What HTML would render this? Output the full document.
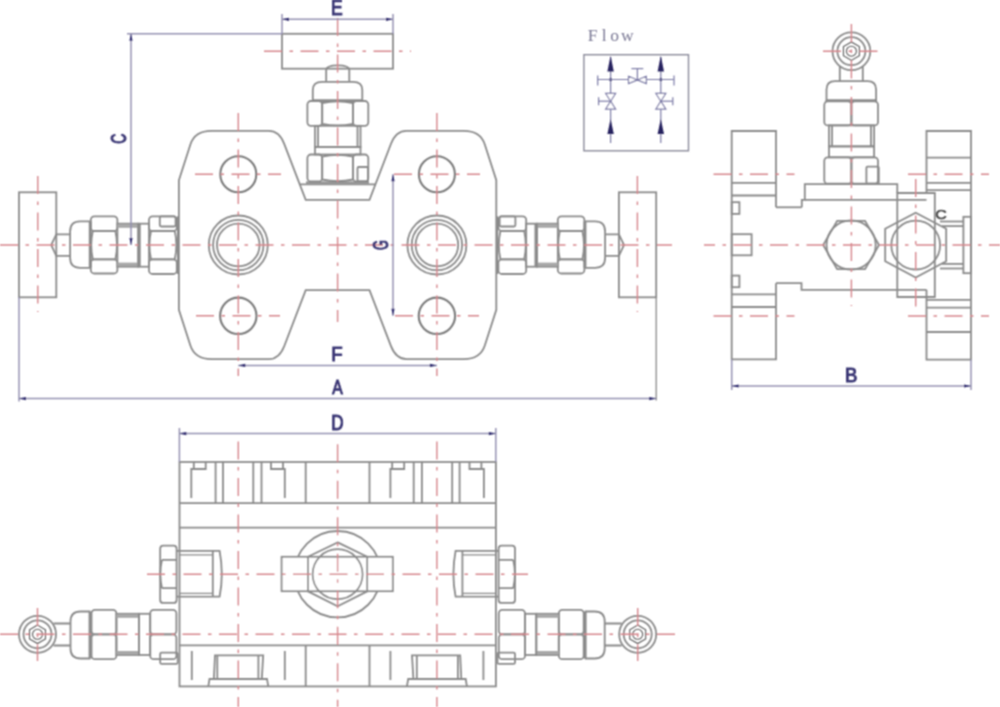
<!DOCTYPE html>
<html><head><meta charset="utf-8"><title>Manifold drawing</title><style>
html,body{margin:0;padding:0;background:#fff;}
svg{display:block;}
text{font-family:"Liberation Sans",sans-serif;}
.o{fill:none;stroke:#8a8a8a;stroke-width:1.8;}
.ot{fill:none;stroke:#8a8a8a;stroke-width:1.3;}
.oth{fill:none;stroke:#5a5a5a;stroke-width:1.1;}
.oh{fill:none;stroke:#7c7c7c;stroke-width:2.1;}
.d{fill:none;stroke:#9592b2;stroke-width:1.5;}
.ah{fill:#2e2a6e;stroke:none;}
.c{fill:none;stroke:#d6868c;stroke-width:1.4;stroke-dasharray:18 7.5 3.5 7.5;}
.fl{stroke:#7b7aa6;stroke-width:1.2;}
line.fl{fill:none;}
.fa{fill:#26215f;}
</style></head>
<body><svg width="1000" height="707" viewBox="0 0 1000 707">
<defs><filter id="bl" x="-5%" y="-5%" width="110%" height="110%"><feConvolveMatrix order="3" kernelMatrix="1 2 1 2 4 2 1 2 1" divisor="16" edgeMode="none"/></filter></defs>
<rect width="1000" height="707" fill="#fff"/>
<g filter="url(#bl)">
<path class="o" d="M178.9,180.2 L190.4,144.5 Q194.8,130.9 211.4,130.9 L268.8,130.9 Q279.2,130.9 284.2,143.8 L305.7,199.8 L369.5,199.8 L391,143.8 Q396,130.9 406.4,130.9 L463.8,130.9 Q480.4,130.9 484.8,144.5 L496.3,180.2 L496.3,309.8 L484.8,345.5 Q480.4,359.1 463.8,359.1 L406.4,359.1 Q396,359.1 391,346.2 L369.5,290.2 L305.7,290.2 L284.2,346.2 Q279.2,359.1 268.8,359.1 L211.4,359.1 Q194.8,359.1 190.4,345.5 L178.9,309.8 Z"/>
<line class="o" x1="299.8" y1="184.4" x2="375.4" y2="184.4"/>
<circle class="oh" cx="238.3" cy="174.2" r="18"/>
<circle class="oh" cx="238.3" cy="315.8" r="18.2"/>
<circle class="o" cx="238.3" cy="245" r="29.5"/>
<circle class="o" cx="238.3" cy="245" r="25.2"/>
<circle class="o" cx="238.3" cy="245" r="21.3"/>
<circle class="oh" cx="436.9" cy="174.2" r="18"/>
<circle class="oh" cx="436.9" cy="315.8" r="18.2"/>
<circle class="o" cx="436.9" cy="245" r="29.5"/>
<circle class="o" cx="436.9" cy="245" r="25.2"/>
<circle class="o" cx="436.9" cy="245" r="21.3"/>
<rect class="o" x="19" y="192.3" width="37.3" height="105"/>
<path class="o" d="M70.1,234.4 H56.3 L51.2,245 L56.3,255.9 H70.1"/>
<path class="o" d="M89.7,221.4 H80.1 Q70.1,221.4 70.1,231.4 V257.8 Q70.1,267.8 80.1,267.8 H89.7 Z"/>
<line class="o" x1="90.8" y1="221.4" x2="90.8" y2="267.8"/>
<rect class="o" x="90.8" y="216.3" width="26.6" height="14.7" rx="3.5"/>
<rect class="o" x="90.8" y="259.3" width="26.6" height="14.2" rx="3.5"/>
<path class="o" d="M92.8,231 Q89.6,245.15 92.8,259.3 M115.4,231 Q118.6,245.15 115.4,259.3 M92.8,231 H115.4 M92.8,259.3 H115.4"/>
<rect class="o" x="117.4" y="223.7" width="20.9" height="43"/>
<rect x="117.4" y="224.2" width="20.9" height="3.6" fill="#a8a8a8"/>
<rect x="117.4" y="262.6" width="20.9" height="3.6" fill="#a8a8a8"/>
<rect class="o" x="138.3" y="223.7" width="10.7" height="43"/>
<line class="o" x1="139.8" y1="223.7" x2="139.8" y2="266.7"/>
<rect class="o" x="149" y="216.3" width="27.8" height="14.7" rx="3.5"/>
<rect class="o" x="149" y="259.3" width="27.8" height="14.7" rx="3.5"/>
<path class="o" d="M151,231 Q147.8,245.15 151,259.3 M174.8,231 Q178,245.15 174.8,259.3 M151,231 H174.8 M151,259.3 H174.8"/>
<rect class="o" x="159.8" y="216.3" width="15.8" height="10.2" rx="1.5"/>
<line class="o" x1="177.9" y1="216.3" x2="177.9" y2="274"/>
<g transform="matrix(-1,0,0,1,675.2,0)">
<rect class="o" x="19" y="192.3" width="37.3" height="105"/>
<path class="o" d="M70.1,234.4 H56.3 L51.2,245 L56.3,255.9 H70.1"/>
<path class="o" d="M89.7,221.4 H80.1 Q70.1,221.4 70.1,231.4 V257.8 Q70.1,267.8 80.1,267.8 H89.7 Z"/>
<line class="o" x1="90.8" y1="221.4" x2="90.8" y2="267.8"/>
<rect class="o" x="90.8" y="216.3" width="26.6" height="14.7" rx="3.5"/>
<rect class="o" x="90.8" y="259.3" width="26.6" height="14.2" rx="3.5"/>
<path class="o" d="M92.8,231 Q89.6,245.15 92.8,259.3 M115.4,231 Q118.6,245.15 115.4,259.3 M92.8,231 H115.4 M92.8,259.3 H115.4"/>
<rect class="o" x="117.4" y="223.7" width="20.9" height="43"/>
<rect x="117.4" y="224.2" width="20.9" height="3.6" fill="#a8a8a8"/>
<rect x="117.4" y="262.6" width="20.9" height="3.6" fill="#a8a8a8"/>
<rect class="o" x="138.3" y="223.7" width="10.7" height="43"/>
<line class="o" x1="139.8" y1="223.7" x2="139.8" y2="266.7"/>
<rect class="o" x="149" y="216.3" width="27.8" height="14.7" rx="3.5"/>
<rect class="o" x="149" y="259.3" width="27.8" height="14.7" rx="3.5"/>
<path class="o" d="M151,231 Q147.8,245.15 151,259.3 M174.8,231 Q178,245.15 174.8,259.3 M151,231 H174.8 M151,259.3 H174.8"/>
<rect class="o" x="159.8" y="216.3" width="15.8" height="10.2" rx="1.5"/>
<line class="o" x1="177.9" y1="216.3" x2="177.9" y2="274"/>
</g>
<rect class="o" x="282" y="33.8" width="111" height="34.9"/>
<path class="o" d="M326.2,81.8 V70 Q326.2,65.4 337.7,65.4 Q349.3,65.4 349.3,70 V81.8"/>
<path class="o" d="M312.8,100.1 V90 Q312.8,81.8 322,81.8 H353.1 Q362.3,81.8 362.3,90 V100.1 Z"/>
<line class="o" x1="312" y1="101" x2="363" y2="101"/>
<rect class="o" x="307.4" y="101" width="14.8" height="24.8" rx="3.5"/>
<rect class="o" x="353" y="101" width="15.3" height="24.8" rx="3.5"/>
<path class="o" d="M322.2,103 Q337.6,99.8 353,103 M322.2,123.8 Q337.6,127 353,123.8 M322.2,103 V123.8 M353,103 V123.8"/>
<rect class="o" x="315" y="125.8" width="45.5" height="21.2"/>
<line class="o" x1="318" y1="125.8" x2="318" y2="147"/>
<line class="o" x1="357.5" y1="125.8" x2="357.5" y2="147"/>
<rect class="o" x="315" y="147" width="45.5" height="7.5"/>
<rect class="o" x="307.4" y="154.5" width="14.8" height="27" rx="3.5"/>
<rect class="o" x="353" y="154.5" width="15.3" height="27" rx="3.5"/>
<path class="o" d="M322.2,156.5 Q337.6,153.3 353,156.5 M322.2,179.5 Q337.6,182.7 353,179.5 M322.2,156.5 V179.5 M353,156.5 V179.5"/>
<rect class="o" x="357.5" y="167" width="10.5" height="14.5" rx="1.2"/>
<line class="o" x1="306" y1="182.5" x2="369" y2="182.5"/>
<line class="c" x1="337.6" y1="18" x2="337.6" y2="322"/>
<line class="c" x1="0" y1="245" x2="672" y2="245"/>
<line class="c" x1="264" y1="51.2" x2="411" y2="51.2"/>
<line class="c" x1="238.3" y1="113" x2="238.3" y2="376"/>
<line class="c" x1="195" y1="174.2" x2="281" y2="174.2"/>
<line class="c" x1="196" y1="315.8" x2="280" y2="315.8"/>
<line class="c" x1="436.9" y1="113" x2="436.9" y2="376"/>
<line class="c" x1="394" y1="174.2" x2="480" y2="174.2"/>
<line class="c" x1="395" y1="315.8" x2="479" y2="315.8"/>
<line class="c" x1="37.8" y1="176" x2="37.8" y2="312"/>
<line class="c" x1="637.4" y1="176" x2="637.4" y2="312"/>
<line class="d" x1="282" y1="19.3" x2="393" y2="19.3"/>
<path class="ah" d="M282,19.3 L289,17.7 L289,20.9 Z"/>
<path class="ah" d="M393,19.3 L386,20.9 L386,17.7 Z"/>
<line class="d" x1="282" y1="14" x2="282" y2="33.8"/>
<line class="d" x1="393" y1="14" x2="393" y2="33.8"/>
<line class="d" x1="127" y1="33.8" x2="282" y2="33.8"/>
<line class="d" x1="131" y1="33.8" x2="131" y2="245"/>
<path class="ah" d="M131,33.8 L132.6,40.8 L129.4,40.8 Z"/>
<path class="ah" d="M131,245 L129.4,238 L132.6,238 Z"/>
<line class="d" x1="19" y1="297.3" x2="19" y2="401.5"/>
<line class="ot" x1="656.2" y1="297.3" x2="656.2" y2="400.5"/>
<line class="d" x1="19" y1="398.6" x2="656.2" y2="398.6"/>
<path class="ah" d="M19,398.6 L26,397 L26,400.2 Z"/>
<path class="ah" d="M656.2,398.6 L649.2,400.2 L649.2,397 Z"/>
<line class="d" x1="238.3" y1="365.4" x2="436.9" y2="365.4"/>
<path class="ah" d="M238.3,365.4 L245.3,363.8 L245.3,367 Z"/>
<path class="ah" d="M436.9,365.4 L429.9,367 L429.9,363.8 Z"/>
<line class="d" x1="393" y1="174.2" x2="393" y2="315.8"/>
<path class="ah" d="M393,174.2 L394.6,181.2 L391.4,181.2 Z"/>
<path class="ah" d="M393,315.8 L391.4,308.8 L394.6,308.8 Z"/>
<circle class="o" cx="851.4" cy="51.2" r="18.9"/>
<circle class="o" cx="851.4" cy="51.2" r="14"/>
<polygon class="oth" points="851.4,42 843.43,46.6 843.43,55.8 851.4,60.4 859.37,55.8 859.37,46.6"/>
<circle class="oth" cx="851.4" cy="51.2" r="5"/>
<path class="o" d="M839.8,82 V66.2 M862.8,82 V66.2"/>
<path class="o" d="M826.5,100.2 V89.5 Q826.5,81.1 835,81.1 H867.6 Q876.1,81.1 876.1,89.5 V100.2 Z"/>
<line class="o" x1="825.5" y1="101" x2="877" y2="101"/>
<rect class="o" x="824.3" y="101.4" width="27.1" height="24" rx="3.5"/>
<rect class="o" x="851.4" y="101.4" width="26.6" height="24" rx="3.5"/>
<rect class="o" x="829" y="125.4" width="45.1" height="21"/>
<line class="o" x1="832" y1="125.4" x2="832" y2="146.4"/>
<line class="o" x1="871" y1="125.4" x2="871" y2="146.4"/>
<rect class="o" x="829" y="146.4" width="45.1" height="10.9"/>
<rect class="o" x="824.3" y="157.3" width="27.1" height="26.4" rx="3.5"/>
<rect class="o" x="851.4" y="157.3" width="26.6" height="26.4" rx="3.5"/>
<rect class="o" x="866.4" y="166.6" width="12.4" height="17.1" rx="1.2"/>
<path class="o" d="M801.8,207.3 V199.8 H804.8 V184.2 H897.3 V193"/>
<line class="o" x1="804.8" y1="199.8" x2="926.5" y2="199.8"/>
<path class="o" d="M776,207.3 V131 H731.7 V359.4 H776 V283.2"/>
<line class="o" x1="776" y1="207.3" x2="801.8" y2="207.3"/>
<line class="o" x1="731.7" y1="182.8" x2="776" y2="182.8"/>
<line class="o" x1="731.7" y1="195.5" x2="776" y2="195.5"/>
<line class="o" x1="731.7" y1="294.4" x2="776" y2="294.4"/>
<line class="o" x1="731.7" y1="307" x2="776" y2="307"/>
<rect class="o" x="731.7" y="202.2" width="7.7" height="11.7"/>
<rect class="o" x="731.7" y="234.2" width="19.9" height="21.1"/>
<rect class="o" x="731.7" y="275.6" width="7.7" height="11.6"/>
<path class="o" d="M776,283.2 H801.5 V289.8 H926.5"/>
<polygon class="o" points="879,245 865.05,220.84 837.15,220.84 823.2,245 837.15,269.16 865.05,269.16"/>
<circle class="o" cx="851.1" cy="245" r="24.6"/>
<path class="o" d="M897.3,193 H934.8 V297 H897.3 Z"/>
<path class="o" d="M926.5,193 V131 H971 V359.6 H926.5 V289.8"/>
<line class="o" x1="926.5" y1="157.7" x2="971" y2="157.7"/>
<line class="o" x1="926.5" y1="182.8" x2="971" y2="182.8"/>
<line class="o" x1="926.5" y1="190.2" x2="971" y2="190.2"/>
<line class="o" x1="926.5" y1="299.8" x2="971" y2="299.8"/>
<line class="o" x1="926.5" y1="307.7" x2="971" y2="307.7"/>
<line class="o" x1="926.5" y1="332" x2="971" y2="332"/>
<polygon class="o" points="915.7,212.8 946.2,228.8 946.2,261.2 915.7,277.5 885.2,261.2 885.2,228.8"/>
<circle class="o" cx="915.7" cy="245.1" r="24.4"/>
<line class="o" x1="940" y1="221.5" x2="963.4" y2="221.5"/>
<line class="o" x1="942" y1="226.1" x2="963.4" y2="226.1"/>
<line class="o" x1="942" y1="263.9" x2="963.4" y2="263.9"/>
<line class="o" x1="940" y1="268.5" x2="963.4" y2="268.5"/>
<rect class="o" x="963.4" y="216.8" width="7.6" height="56.4"/>
<line class="c" x1="851.4" y1="24" x2="851.4" y2="306"/>
<line class="c" x1="823" y1="51.2" x2="880" y2="51.2"/>
<line class="c" x1="704" y1="245" x2="1000" y2="245" stroke-dashoffset="7"/>
<line class="c" x1="713.5" y1="174.3" x2="794.5" y2="174.3"/>
<line class="c" x1="908" y1="174.3" x2="989" y2="174.3"/>
<line class="c" x1="713.5" y1="316" x2="794.5" y2="316"/>
<line class="c" x1="908" y1="316" x2="989" y2="316"/>
<line class="c" x1="915.7" y1="179" x2="915.7" y2="311"/>
<line class="d" x1="731.7" y1="359.4" x2="731.7" y2="390"/>
<line class="d" x1="971" y1="359.6" x2="971" y2="390"/>
<line class="d" x1="731.7" y1="386" x2="971" y2="386"/>
<path class="ah" d="M731.7,386 L738.7,384.4 L738.7,387.6 Z"/>
<path class="ah" d="M971,386 L964,387.6 L964,384.4 Z"/>
<rect class="o" x="179.5" y="462" width="316.4" height="224.4"/>
<line class="o" x1="179.4" y1="503.2" x2="495.8" y2="503.2"/>
<line class="o" x1="179.4" y1="527.6" x2="495.8" y2="527.6"/>
<line class="o" x1="179.4" y1="645.4" x2="495.8" y2="645.4"/>
<line class="o" x1="215.6" y1="461.8" x2="215.6" y2="503.2"/>
<line class="o" x1="223" y1="461.8" x2="223" y2="503.2"/>
<line class="o" x1="253.3" y1="461.8" x2="253.3" y2="503.2"/>
<line class="o" x1="261.5" y1="461.8" x2="261.5" y2="503.2"/>
<line class="o" x1="305.7" y1="461.8" x2="305.7" y2="503.2"/>
<path class="o" d="M191.3,498 V469 H205.7 V461.8 M193.8,461.8 V469"/>
<path class="o" d="M284.8,498 V469 H271 V461.8 M283,461.8 V469"/>
<line class="o" x1="191.8" y1="651" x2="191.8" y2="680"/>
<line class="o" x1="284.8" y1="651" x2="284.8" y2="680"/>
<line class="o" x1="305.7" y1="645.4" x2="305.7" y2="686.4"/>
<path class="o" d="M208.3,686.4 L209.5,679 H267 L268.3,686.4"/>
<path class="o" d="M213.9,679 L215,655.3 H263.2 L261.8,679"/>
<line class="o" x1="217.3" y1="655.3" x2="217.3" y2="679"/>
<line class="o" x1="258.4" y1="655.3" x2="258.4" y2="679"/>
<rect class="o" x="160.2" y="545.7" width="16.4" height="57.2" rx="3"/>
<path class="o" d="M162,559.9 H176.6 M162,588.2 H176.6 M162,559.9 Q158.6,574 162,588.2"/>
<path class="o" d="M176.6,550.8 H219.6 Q224,574 219.6,596.7 H176.6"/>
<line class="o" x1="212.8" y1="550.8" x2="212.8" y2="596.7"/>
<path class="ot" d="M179.6,554.8 H212.8 M179.6,593.3 H212.8"/>
<circle class="o" cx="37.5" cy="634.3" r="18.5"/>
<circle class="o" cx="37.5" cy="634.3" r="14"/>
<polygon class="oth" points="37.5,625.1 29.53,629.7 29.53,638.9 37.5,643.5 45.47,638.9 45.47,629.7"/>
<circle class="oth" cx="37.5" cy="634.3" r="5"/>
<path class="o" d="M53.5,623.5 H70.5 M53.5,645.5 H70.5"/>
<path class="o" d="M89.5,611.5 H80.5 Q70.5,611.5 70.5,621.5 V648.5 Q70.5,658.5 80.5,658.5 H89.5 Z"/>
<line class="o" x1="91" y1="611.5" x2="91" y2="658.5"/>
<rect class="o" x="91.5" y="609.8" width="24.9" height="24.5" rx="3.5"/>
<rect class="o" x="91.5" y="634.3" width="24.9" height="24.9" rx="3.5"/>
<rect class="o" x="116.4" y="613.8" width="22.5" height="41.2"/>
<rect x="116.4" y="614.3" width="22.5" height="3.5" fill="#a8a8a8"/>
<rect x="116.4" y="651" width="22.5" height="3.5" fill="#a8a8a8"/>
<rect class="o" x="138.9" y="613.8" width="11.3" height="41.2"/>
<rect class="o" x="150.2" y="609.8" width="26.2" height="24.5" rx="3.5"/>
<rect class="o" x="150.2" y="634.3" width="26.2" height="24.9" rx="3.5"/>
<rect class="o" x="160.2" y="652.6" width="17.5" height="11.3" rx="1.5"/>
<g transform="matrix(-1,0,0,1,675.2,0)">
<line class="o" x1="215.6" y1="461.8" x2="215.6" y2="503.2"/>
<line class="o" x1="223" y1="461.8" x2="223" y2="503.2"/>
<line class="o" x1="253.3" y1="461.8" x2="253.3" y2="503.2"/>
<line class="o" x1="261.5" y1="461.8" x2="261.5" y2="503.2"/>
<line class="o" x1="305.7" y1="461.8" x2="305.7" y2="503.2"/>
<path class="o" d="M191.3,498 V469 H205.7 V461.8 M193.8,461.8 V469"/>
<path class="o" d="M284.8,498 V469 H271 V461.8 M283,461.8 V469"/>
<line class="o" x1="191.8" y1="651" x2="191.8" y2="680"/>
<line class="o" x1="284.8" y1="651" x2="284.8" y2="680"/>
<line class="o" x1="305.7" y1="645.4" x2="305.7" y2="686.4"/>
<path class="o" d="M208.3,686.4 L209.5,679 H267 L268.3,686.4"/>
<path class="o" d="M213.9,679 L215,655.3 H263.2 L261.8,679"/>
<line class="o" x1="217.3" y1="655.3" x2="217.3" y2="679"/>
<line class="o" x1="258.4" y1="655.3" x2="258.4" y2="679"/>
<rect class="o" x="160.2" y="545.7" width="16.4" height="57.2" rx="3"/>
<path class="o" d="M162,559.9 H176.6 M162,588.2 H176.6 M162,559.9 Q158.6,574 162,588.2"/>
<path class="o" d="M176.6,550.8 H219.6 Q224,574 219.6,596.7 H176.6"/>
<line class="o" x1="212.8" y1="550.8" x2="212.8" y2="596.7"/>
<path class="ot" d="M179.6,554.8 H212.8 M179.6,593.3 H212.8"/>
<circle class="o" cx="37.5" cy="634.3" r="18.5"/>
<circle class="o" cx="37.5" cy="634.3" r="14"/>
<polygon class="oth" points="37.5,625.1 29.53,629.7 29.53,638.9 37.5,643.5 45.47,638.9 45.47,629.7"/>
<circle class="oth" cx="37.5" cy="634.3" r="5"/>
<path class="o" d="M53.5,623.5 H70.5 M53.5,645.5 H70.5"/>
<path class="o" d="M89.5,611.5 H80.5 Q70.5,611.5 70.5,621.5 V648.5 Q70.5,658.5 80.5,658.5 H89.5 Z"/>
<line class="o" x1="91" y1="611.5" x2="91" y2="658.5"/>
<rect class="o" x="91.5" y="609.8" width="24.9" height="24.5" rx="3.5"/>
<rect class="o" x="91.5" y="634.3" width="24.9" height="24.9" rx="3.5"/>
<rect class="o" x="116.4" y="613.8" width="22.5" height="41.2"/>
<rect x="116.4" y="614.3" width="22.5" height="3.5" fill="#a8a8a8"/>
<rect x="116.4" y="651" width="22.5" height="3.5" fill="#a8a8a8"/>
<rect class="o" x="138.9" y="613.8" width="11.3" height="41.2"/>
<rect class="o" x="150.2" y="609.8" width="26.2" height="24.5" rx="3.5"/>
<rect class="o" x="150.2" y="634.3" width="26.2" height="24.9" rx="3.5"/>
<rect class="o" x="160.2" y="652.6" width="17.5" height="11.3" rx="1.5"/>
</g>
<circle class="o" cx="337.6" cy="574.2" r="43.2"/>
<rect class="o" x="281.6" y="556.8" width="111.2" height="34.4" style="fill:#fff"/>
<polygon class="o" points="337.6,542.4 367.2,556.8 367.2,591.4 337.6,606.2 308,591.4 308,556.8" fill="none"/>
<circle class="o" cx="337.6" cy="574.2" r="25"/>
<line class="c" x1="337.6" y1="444.3" x2="337.6" y2="707"/>
<line class="c" x1="238.3" y1="441.6" x2="238.3" y2="707"/>
<line class="c" x1="436.9" y1="441.6" x2="436.9" y2="707"/>
<line class="c" x1="147" y1="574.3" x2="528" y2="574.3"/>
<line class="c" x1="0" y1="634.3" x2="680" y2="634.3"/>
<line class="c" x1="37.5" y1="608" x2="37.5" y2="661"/>
<line class="c" x1="637.7" y1="608" x2="637.7" y2="661"/>
<line class="d" x1="179.4" y1="428" x2="179.4" y2="461.8"/>
<line class="d" x1="495.8" y1="428" x2="495.8" y2="461.8"/>
<line class="d" x1="179.4" y1="433.6" x2="495.8" y2="433.6"/>
<path class="ah" d="M179.4,433.6 L186.4,432 L186.4,435.2 Z"/>
<path class="ah" d="M495.8,433.6 L488.8,435.2 L488.8,432 Z"/>
<rect x="583.9" y="54.7" width="104.6" height="96.1" fill="none" stroke="#8a8a9a" stroke-width="1.4"/>
<line class="fl" x1="610.6" y1="57" x2="610.6" y2="143"/>
<path class="fa" d="M610.6,55.7 L607.4,71.5 L613.8,71.5 Z"/>
<path class="fa" d="M610.6,119 L607.4,134 L613.8,134 Z"/>
<circle cx="610.6" cy="79.5" r="1.6" fill="#2b2668"/>
<line class="fl" x1="660.8" y1="57" x2="660.8" y2="143"/>
<path class="fa" d="M660.8,55.7 L657.6,71.5 L664,71.5 Z"/>
<path class="fa" d="M660.8,119 L657.6,134 L664,134 Z"/>
<circle cx="660.8" cy="79.5" r="1.6" fill="#2b2668"/>
<line class="fl" x1="597.7" y1="79.5" x2="674" y2="79.5"/>
<line class="fl" x1="597.7" y1="75.5" x2="597.7" y2="85.4"/>
<line class="fl" x1="674" y1="75.5" x2="674" y2="85.4"/>
<path class="fl" fill="#fff" d="M628.5,76.3 L637.4,79.9 L628.5,83.5 Z M646.3,76.3 L637.4,79.9 L646.3,83.5 Z"/>
<line class="fl" x1="637.4" y1="79.9" x2="637.4" y2="68.6"/>
<line class="fl" x1="631.4" y1="68.6" x2="643.3" y2="68.6"/>
<path class="fl" fill="#fff" d="M605.6,93.3 L610.6,101.2 L615.6,93.3 Z M605.6,109.2 L610.6,101.2 L615.6,109.2 Z"/>
<line class="fl" x1="610.6" y1="101.2" x2="598.6" y2="101.2"/>
<line class="fl" x1="598.6" y1="97.3" x2="598.6" y2="105.2"/>
<path class="fl" fill="#fff" d="M655.8,93.3 L660.8,101.2 L665.8,93.3 Z M655.8,109.2 L660.8,101.2 L665.8,109.2 Z"/>
<line class="fl" x1="660.8" y1="101.2" x2="672.8" y2="101.2"/>
<line class="fl" x1="672.8" y1="97.3" x2="672.8" y2="105.2"/>
<text transform="matrix(0.1753,0.0000,0.0000,0.2253,331.1122,14.8500)" font-size="100" fill="#3a3674" stroke="#3a3674" stroke-width="5">E</text>
<text transform="matrix(0.0000,-0.1405,0.2203,0.0000,126.2348,143.8636)" font-size="100" fill="#3a3674" stroke="#3a3674" stroke-width="5">C</text>
<text transform="matrix(0.1568,0.0000,0.0000,0.2079,332.2194,393.9500)" font-size="100" fill="#3a3674" stroke="#3a3674" stroke-width="5">A</text>
<text transform="matrix(0.1862,0.0000,0.0000,0.2064,331.2227,360.7500)" font-size="100" fill="#3a3674" stroke="#3a3674" stroke-width="5">F</text>
<text transform="matrix(0.0000,-0.1271,0.2133,0.0000,387.8417,249.8894)" font-size="100" fill="#3a3674" stroke="#3a3674" stroke-width="5">G</text>
<text transform="matrix(0.1860,0.0000,0.0000,0.2079,844.9241,382.1500)" font-size="100" fill="#3a3674" stroke="#3a3674" stroke-width="5">B</text>
<text transform="matrix(0.1705,0.0000,0.0000,0.2122,331.1512,430.3500)" font-size="100" fill="#3a3674" stroke="#3a3674" stroke-width="5">D</text>
<text transform="matrix(0.1595,0.0000,0.0000,0.1257,935.3401,219.4272)" font-size="100" fill="#4a4a4a" stroke="#4a4a4a" stroke-width="5">C</text>
<text x="592.5" y="41.1" text-anchor="middle" style="font-family:'Liberation Serif',serif;font-size:17.5px" fill="#7a7894">F</text>
<text x="604.1" y="41.1" text-anchor="middle" style="font-family:'Liberation Serif',serif;font-size:17.5px" fill="#7a7894">l</text>
<text x="614.7" y="41.1" text-anchor="middle" style="font-family:'Liberation Serif',serif;font-size:17.5px" fill="#7a7894">o</text>
<text x="627.3" y="41.1" text-anchor="middle" style="font-family:'Liberation Serif',serif;font-size:17.5px" fill="#7a7894">w</text>
</g>
</svg></body></html>
